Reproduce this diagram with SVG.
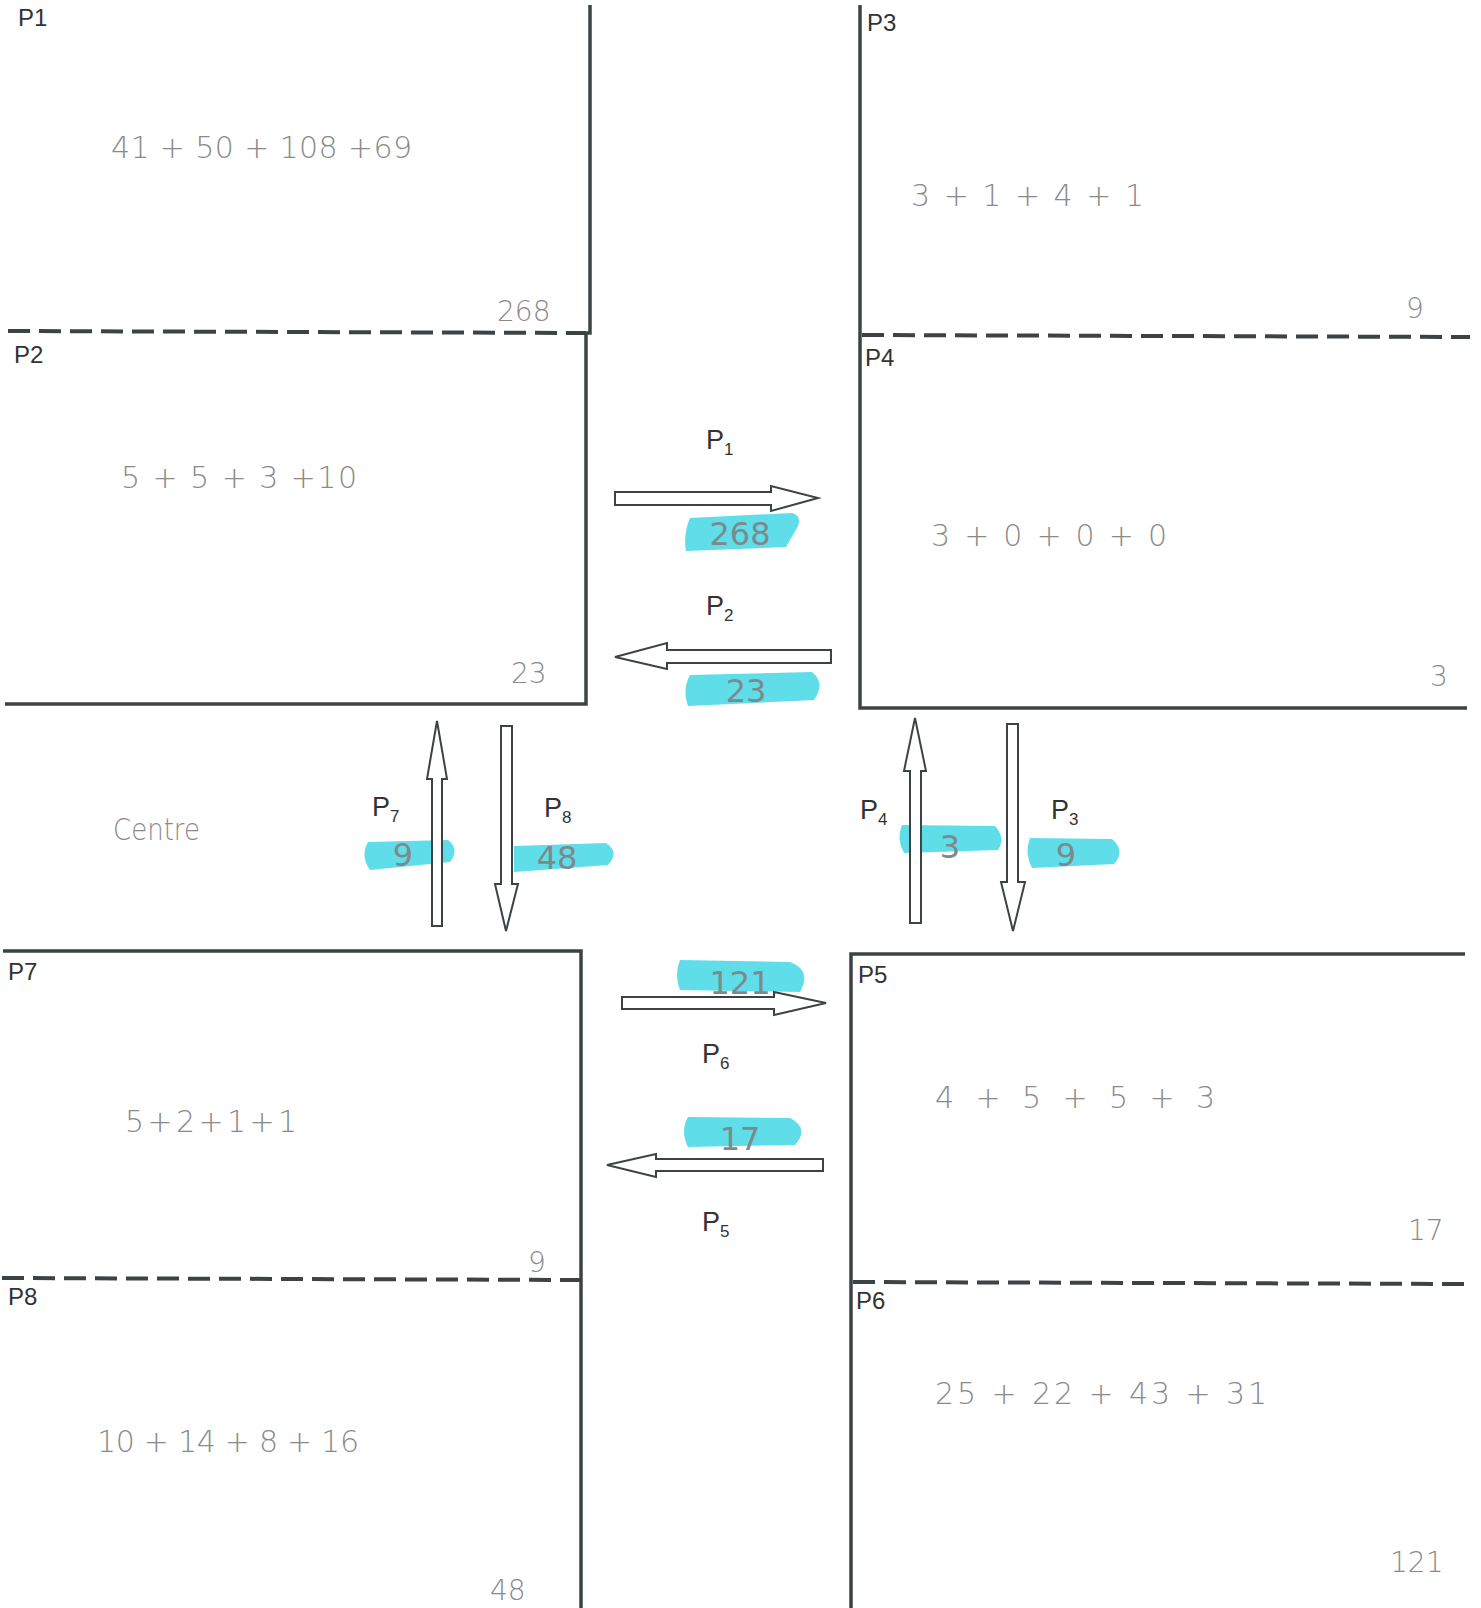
<svg xmlns="http://www.w3.org/2000/svg" width="1481" height="1608" viewBox="0 0 1481 1608">
<style>
.wall{stroke:#3d4344;stroke-width:3.5;fill:none}
.dash{stroke:#3d4344;stroke-width:4;fill:none;stroke-dasharray:22 9}
.lbl{font-family:"Liberation Sans",Arial,sans-serif;font-size:24px;fill:#333}
.plbl{font-family:"Liberation Sans",Arial,sans-serif;font-size:27px;fill:#333}
.sub{font-size:17px}
.hw{font-family:"DejaVu Sans","Liberation Sans",sans-serif;font-weight:200;font-size:30px;fill:#8a8a8a}
.hwl{font-family:"DejaVu Sans","Liberation Sans",sans-serif;font-weight:200;font-size:28px;fill:#8a8a8a}
.hl{fill:#5fdde8}
.hlt{font-family:"DejaVu Sans","Liberation Sans",sans-serif;font-size:32px;fill:#7d8a8c;text-anchor:middle}
.arr{fill:#fff;stroke:#3d4344;stroke-width:2}
</style>
<rect width="1481" height="1608" fill="#fff"/>

<g id="walls">
<polyline class="wall" points="590,5 590,333 586,333 586,704 5,704"/>
<polyline class="wall" points="860,5 860,708 1467,708"/>
<polyline class="wall" points="3,951 581,951 581,1608"/>
<polyline class="wall" points="1465,954 851,954 851,1608"/>
<line class="dash" x1="8" y1="331" x2="586" y2="333"/>
<line class="dash" x1="862" y1="335" x2="1470" y2="337"/>
<line class="dash" x1="2" y1="1278" x2="581" y2="1280"/>
<line class="dash" x1="853" y1="1282" x2="1465" y2="1284"/>
</g>

<g id="P1">
<text class="lbl" x="18" y="26">P1</text>
<text class="hw" x="111" y="158" textLength="301" lengthAdjust="spacing">41 + 50  + 108 +69</text>
<text class="hwl" x="497" y="321">268</text>
</g>
<g id="P2">
<text class="lbl" x="14" y="363">P2</text>
<text class="hw" x="121" y="488" textLength="236" lengthAdjust="spacing">5 + 5  + 3 +10</text>
<text class="hwl" x="511" y="683">23</text>
</g>
<g id="P3">
<text class="lbl" x="867" y="31">P3</text>
<text class="hw" x="911" y="206" textLength="233" lengthAdjust="spacing">3 + 1 + 4 + 1</text>
<text class="hwl" x="1406" y="318">9</text>
</g>
<g id="P4">
<text class="lbl" x="865" y="366">P4</text>
<text class="hw" x="931" y="546" textLength="236" lengthAdjust="spacing">3 + 0 + 0  + 0</text>
<text class="hwl" x="1430" y="686">3</text>
</g>
<g id="Centre">
<text class="hw" x="113" y="840" font-size="34" textLength="87" lengthAdjust="spacingAndGlyphs">Centre</text>
</g>
<g id="P7">
<text class="lbl" x="8" y="980">P7</text>
<text class="hw" x="125" y="1132" font-size="27" textLength="172" lengthAdjust="spacing">5 + 2 + 1 + 1</text>
<text class="hwl" x="528" y="1272">9</text>
</g>
<g id="P8">
<text class="lbl" x="8" y="1305">P8</text>
<text class="hw" x="97" y="1452" textLength="262" lengthAdjust="spacing">10 + 14 + 8 + 16</text>
<text class="hwl" x="490" y="1600" font-size="24">48</text>
</g>
<g id="P5">
<text class="lbl" x="858" y="983">P5</text>
<text class="hw" x="935" y="1108" textLength="280" lengthAdjust="spacing">4 + 5  + 5 + 3</text>
<text class="hwl" x="1408" y="1240">17</text>
</g>
<g id="P6">
<text class="lbl" x="856" y="1309">P6</text>
<text class="hw" x="935" y="1404" textLength="332" lengthAdjust="spacing">25 + 22 + 43 + 31</text>
<text class="hwl" x="1390" y="1572">121</text>
</g>

<g id="highlights">
<path class="hl" d="M690,518 L792,513 Q802,516 798,526 L786,547 L686,551 Q683,534 690,518Z"/>
<path class="hl" d="M690,675 L812,672 Q826,683 814,700 L688,706 Q682,690 690,675Z"/>
<path class="hl" d="M368,842 L448,840 Q460,849 450,862 L370,870 Q360,856 368,842Z"/>
<path class="hl" d="M514,846 L606,843 Q620,852 608,865 L514,872 Z"/>
<path class="hl" d="M902,825 L995,826 Q1006,838 998,850 L904,853 Q896,839 902,825Z"/>
<path class="hl" d="M1030,838 L1112,839 Q1126,851 1114,864 L1032,868 Q1024,853 1030,838Z"/>
<path class="hl" d="M680,960 L790,962 Q812,970 800,992 L680,990 Q674,975 680,960Z"/>
<path class="hl" d="M688,1117 L790,1118 Q810,1128 795,1145 L688,1147 Q680,1131 688,1117Z"/>
</g>

<g id="connectors">
<g id="arrow-P1">
<polygon class="arr" points="615,492 771,492 771,486 818,498 771,511 771,505 615,505"/>
<text class="plbl" x="706" y="449">P<tspan class="sub" dy="6">1</tspan></text>
<text class="hlt" x="740" y="545">268</text>
</g>
<g id="arrow-P2">
<polygon class="arr" points="831,650 831,663 667,663 667,669 615,657 667,643 667,650"/>
<text class="plbl" x="706" y="615">P<tspan class="sub" dy="6">2</tspan></text>
<text class="hlt" x="746" y="702">23</text>
</g>
<g id="arrow-P7">
<polygon class="arr" points="432,926 432,779 427,779 437,721 447,779 442,779 442,926"/>
<text class="plbl" x="372" y="816">P<tspan class="sub" dy="6">7</tspan></text>
<text class="hlt" x="403" y="866">9</text>
</g>
<g id="arrow-P8">
<polygon class="arr" points="501,726 512,726 512,884 518,884 506,931 495,884 501,884"/>
<text class="plbl" x="544" y="817">P<tspan class="sub" dy="6">8</tspan></text>
<text class="hlt" x="557" y="869">48</text>
</g>
<g id="arrow-P4">
<polygon class="arr" points="910,923 910,771 904,771 915,718 926,771 921,771 921,923"/>
<text class="plbl" x="860" y="819">P<tspan class="sub" dy="6">4</tspan></text>
<text class="hlt" x="950" y="858">3</text>
</g>
<g id="arrow-P3">
<polygon class="arr" points="1007,724 1018,724 1018,882 1025,882 1013,931 1001,882 1007,882"/>
<text class="plbl" x="1051" y="819">P<tspan class="sub" dy="6">3</tspan></text>
<text class="hlt" x="1066" y="866">9</text>
</g>
<g id="arrow-P6">
<polygon class="arr" points="622,997 774,997 774,992 826,1003 774,1015 774,1009 622,1009"/>
<text class="plbl" x="702" y="1063">P<tspan class="sub" dy="6">6</tspan></text>
<text class="hlt" x="740" y="994">121</text>
</g>
<g id="arrow-P5">
<polygon class="arr" points="823,1159 823,1171 656,1171 656,1177 607,1165 656,1154 656,1159"/>
<text class="plbl" x="702" y="1231">P<tspan class="sub" dy="6">5</tspan></text>
<text class="hlt" x="740" y="1150">17</text>
</g>
</g>
</svg>
